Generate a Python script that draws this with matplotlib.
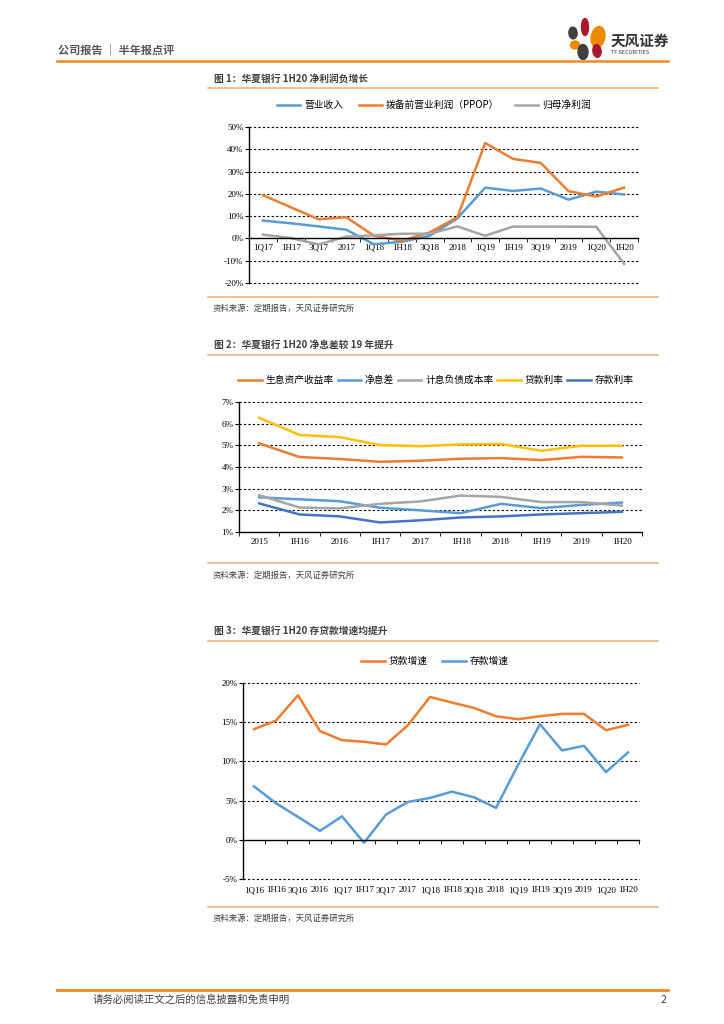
import numpy as np
import matplotlib
matplotlib.use('Agg')
from matplotlib import pyplot as plt
from matplotlib.patches import Ellipse
from matplotlib.lines import Line2D
from matplotlib.transforms import blended_transform_factory

plt.rcParams['font.family'] = ['Noto Sans CJK SC', 'DejaVu Sans']

# chart 1: growth, %
cats1 = ['1Q17', '1H17', '3Q17', '2017', '1Q18', '1H18', '3Q18', '2018',
         '1Q19', '1H19', '3Q19', '2019', '1Q20', '1H20']
revenue = [8.0, 6.8, 5.4, 3.9, -2.6, -1.5, 1.2, 9.0, 22.8, 21.3, 22.4, 17.4, 21.0, 19.7]
ppop = [19.4, 14.0, 8.6, 9.5, 1.2, -1.0, 2.7, 9.5, 42.8, 35.7, 33.9, 21.2, 18.8, 22.8]
netprofit = [1.7, 0.2, -2.7, 0.8, 1.4, 2.1, 2.1, 5.4, 1.2, 5.3, 5.3, 5.3, 5.2, -11.4]

# chart 2: rates, %
cats2 = ['2015', '1H16', '2016', '1H17', '2017', '1H18', '2018', '1H19', '2019', '1H20']
asset_yield = [5.09, 4.46, 4.37, 4.24, 4.29, 4.38, 4.41, 4.32, 4.47, 4.44]
nim = [2.60, 2.51, 2.42, 2.12, 2.00, 1.87, 2.30, 2.10, 2.25, 2.36]
liab_cost = [2.70, 2.13, 2.09, 2.30, 2.41, 2.68, 2.62, 2.38, 2.38, 2.22]
loan_rate = [6.27, 5.48, 5.38, 5.01, 4.96, 5.04, 5.06, 4.75, 4.98, 4.98]
dep_rate = [2.32, 1.81, 1.72, 1.44, 1.54, 1.67, 1.72, 1.81, 1.87, 1.93]

# chart 3: loan / deposit growth, %
cats3 = ['1Q16', '1H16', '3Q16', '2016', '1Q17', '1H17', '3Q17', '2017', '1Q18',
         '1H18', '3Q18', '2018', '1Q19', '1H19', '3Q19', '2019', '1Q20', '1H20']
loan_g = [14.11, 15.21, 18.43, 13.86, 12.71, 12.50, 12.16, 14.62, 18.22,
          17.50, 16.82, 15.76, 15.38, 15.76, 16.06, 16.06, 13.98, 14.66]
dep_g = [6.82, 4.66, 2.92, 1.14, 3.00, -0.38, 3.22, 4.83, 5.34,
         6.14, 5.42, 4.07, 9.53, 14.75, 11.40, 11.99, 8.64, 11.14]

ORANGE = '#ED7D31'
BLUE = '#5B9BD5'
GRAY = '#A5A5A5'
YELLOW = '#FFC000'
DBLUE = '#4472C4'
HEAD = '#F08A24'
LIGHT = '#F6B27A'

W, H = 724, 1024
fig = plt.figure(figsize=(W / 100, H / 100), dpi=100)


def fx(x):
    return x / W


def fy(y):
    return 1 - y / H


def hline(y, x0, x1, color, lw):
    fig.add_artist(Line2D([fx(x0), fx(x1)], [fy(y), fy(y)], color=color, lw=lw,
                          transform=fig.transFigure))


def make_axes(left, right, top, bottom):
    return fig.add_axes([fx(left), fy(bottom), fx(right) - fx(left), fy(top) - fy(bottom)])


def style_axes(ax, cats, ylim, ystep, zero):
    n = len(cats)
    ax.set_xlim(-0.5, n - 0.5)
    ax.set_ylim(*ylim)
    yt = np.arange(ylim[0], ylim[1] + ystep / 2, ystep)
    ax.set_yticks(yt)
    ax.set_yticklabels(['%d%%' % v for v in yt], family='Liberation Serif', fontsize=6.5)
    for v in yt:
        if v != zero:
            ax.axhline(v, color='black', lw=0.8, ls=(0, (2, 2)), zorder=0, clip_on=False)
    for s in ['top', 'right']:
        ax.spines[s].set_visible(False)
    ax.spines['bottom'].set_position(('data', zero))
    ax.spines['left'].set_linewidth(1.0)
    ax.spines['bottom'].set_linewidth(1.0)
    ax.set_xticks(range(n))
    ax.set_xticks(np.arange(-0.5, n, 1), minor=True)
    ax.tick_params(axis='x', which='major', length=0, pad=4)
    ax.tick_params(axis='x', which='minor', length=3, direction='out')
    ax.tick_params(axis='y', length=3, direction='out', pad=1)


# header
fig.text(fx(58), fy(50), '公司报告 ｜ 半年报点评', fontsize=8, color='#555555',
         va='center', weight='bold')
hline(61, 57, 668, HEAD, 1.8)
for (cx, cy, w, h, ang, col) in [(573, 33, 8, 12, 40, '#3f3f3f'), (585, 27, 7, 17, 0, '#A6192E'),
                                 (598, 37, 13, 22, -35, '#EE8A00'), (575, 45, 9, 8, 0, '#EE8A00'),
                                 (583, 52, 10, 15, 10, '#3f3f3f'), (597, 51, 8, 13, 30, '#A6192E')]:
    fig.add_artist(Ellipse((fx(cx), fy(cy)), w / W, h / H, angle=ang, color=col,
                           transform=fig.transFigure))
fig.text(fx(611), fy(41), '天风证券', fontsize=10.5, weight='bold', color='#333333', va='center')
fig.text(fx(611), fy(53), 'TF SECURITIES', fontsize=4, color='#333333', va='center')

src = '资料来源：定期报告，天风证券研究所'

# chart 1
fig.text(fx(214), fy(79), '图 1：华夏银行 1H20 净利润负增长', fontsize=7, weight='bold',
         color='#404040', va='center')
hline(88, 208, 658, LIGHT, 1.2)
ax1 = make_axes(249, 638, 127, 283)
x1 = np.arange(len(cats1))
ax1.plot(x1, revenue, color=BLUE, lw=1.8, label='营业收入')
ax1.plot(x1, ppop, color=ORANGE, lw=1.8, label='拨备前营业利润（PPOP）')
ax1.plot(x1, netprofit, color=GRAY, lw=1.8, label='归母净利润')
style_axes(ax1, cats1, (-20, 50), 10, 0)
ax1.set_xticklabels(cats1, family='Liberation Serif', fontsize=6.5)
ax1.legend(loc='center', bbox_to_anchor=(fx(434), fy(105)), bbox_transform=fig.transFigure,
           ncol=3, frameon=False, fontsize=7, handlelength=2.4, columnspacing=1.6,
           handletextpad=0.4)
hline(297, 208, 658, LIGHT, 1.2)
fig.text(fx(213), fy(308), src, fontsize=6, color='#404040', va='center')

# chart 2
fig.text(fx(214), fy(345), '图 2：华夏银行 1H20 净息差较 19 年提升', fontsize=7, weight='bold',
         color='#404040', va='center')
hline(355, 208, 658, LIGHT, 1.2)
ax2 = make_axes(239, 642, 402, 532)
x2 = np.arange(len(cats2))
ax2.plot(x2, asset_yield, color=ORANGE, lw=1.8, label='生息资产收益率')
ax2.plot(x2, nim, color=BLUE, lw=1.8, label='净息差')
ax2.plot(x2, liab_cost, color=GRAY, lw=1.8, label='计息负债成本率')
ax2.plot(x2, loan_rate, color=YELLOW, lw=1.8, label='贷款利率')
ax2.plot(x2, dep_rate, color=DBLUE, lw=1.8, label='存款利率')
style_axes(ax2, cats2, (1, 7), 1, 1)
ax2.set_xticklabels(cats2, family='Liberation Serif', fontsize=6.5)
ax2.legend(loc='center', bbox_to_anchor=(fx(436), fy(380)), bbox_transform=fig.transFigure,
           ncol=5, frameon=False, fontsize=7, handlelength=2.4, columnspacing=0.4,
           handletextpad=0.4)
hline(563, 208, 658, LIGHT, 1.2)
fig.text(fx(213), fy(575), src, fontsize=6, color='#404040', va='center')

# chart 3
fig.text(fx(214), fy(631), '图 3：华夏银行 1H20 存贷款增速均提升', fontsize=7, weight='bold',
         color='#404040', va='center')
hline(641, 208, 658, LIGHT, 1.2)
ax3 = make_axes(243, 639, 683, 879)
x3 = np.arange(len(cats3))
ax3.plot(x3, loan_g, color=ORANGE, lw=1.8, label='贷款增速')
ax3.plot(x3, dep_g, color=BLUE, lw=1.8, label='存款增速')
style_axes(ax3, cats3, (-5, 20), 5, 0)
ax3.tick_params(axis='x', which='major', labelbottom=False)
tr = blended_transform_factory(ax3.transData, fig.transFigure)
for i, c in enumerate(cats3):
    ax3.text(i, fy(890), c, transform=tr, ha='center', va='center',
             family='Liberation Serif', fontsize=6.5)
ax3.legend(loc='center', bbox_to_anchor=(fx(435), fy(661)), bbox_transform=fig.transFigure,
           ncol=2, frameon=False, fontsize=7, handlelength=2.4, columnspacing=1.5,
           handletextpad=0.4)
hline(907, 208, 658, LIGHT, 1.2)
fig.text(fx(213), fy(918), src, fontsize=6, color='#404040', va='center')

# footer
hline(990, 57, 668, HEAD, 2.0)
fig.text(fx(93), fy(1000), '请务必阅读正文之后的信息披露和免责申明', fontsize=7.5,
         color='#404040', va='center')
fig.text(fx(666), fy(1000), '2', fontsize=7.5, color='#404040', va='center', ha='right')

fig.savefig('out.png', dpi=100)
